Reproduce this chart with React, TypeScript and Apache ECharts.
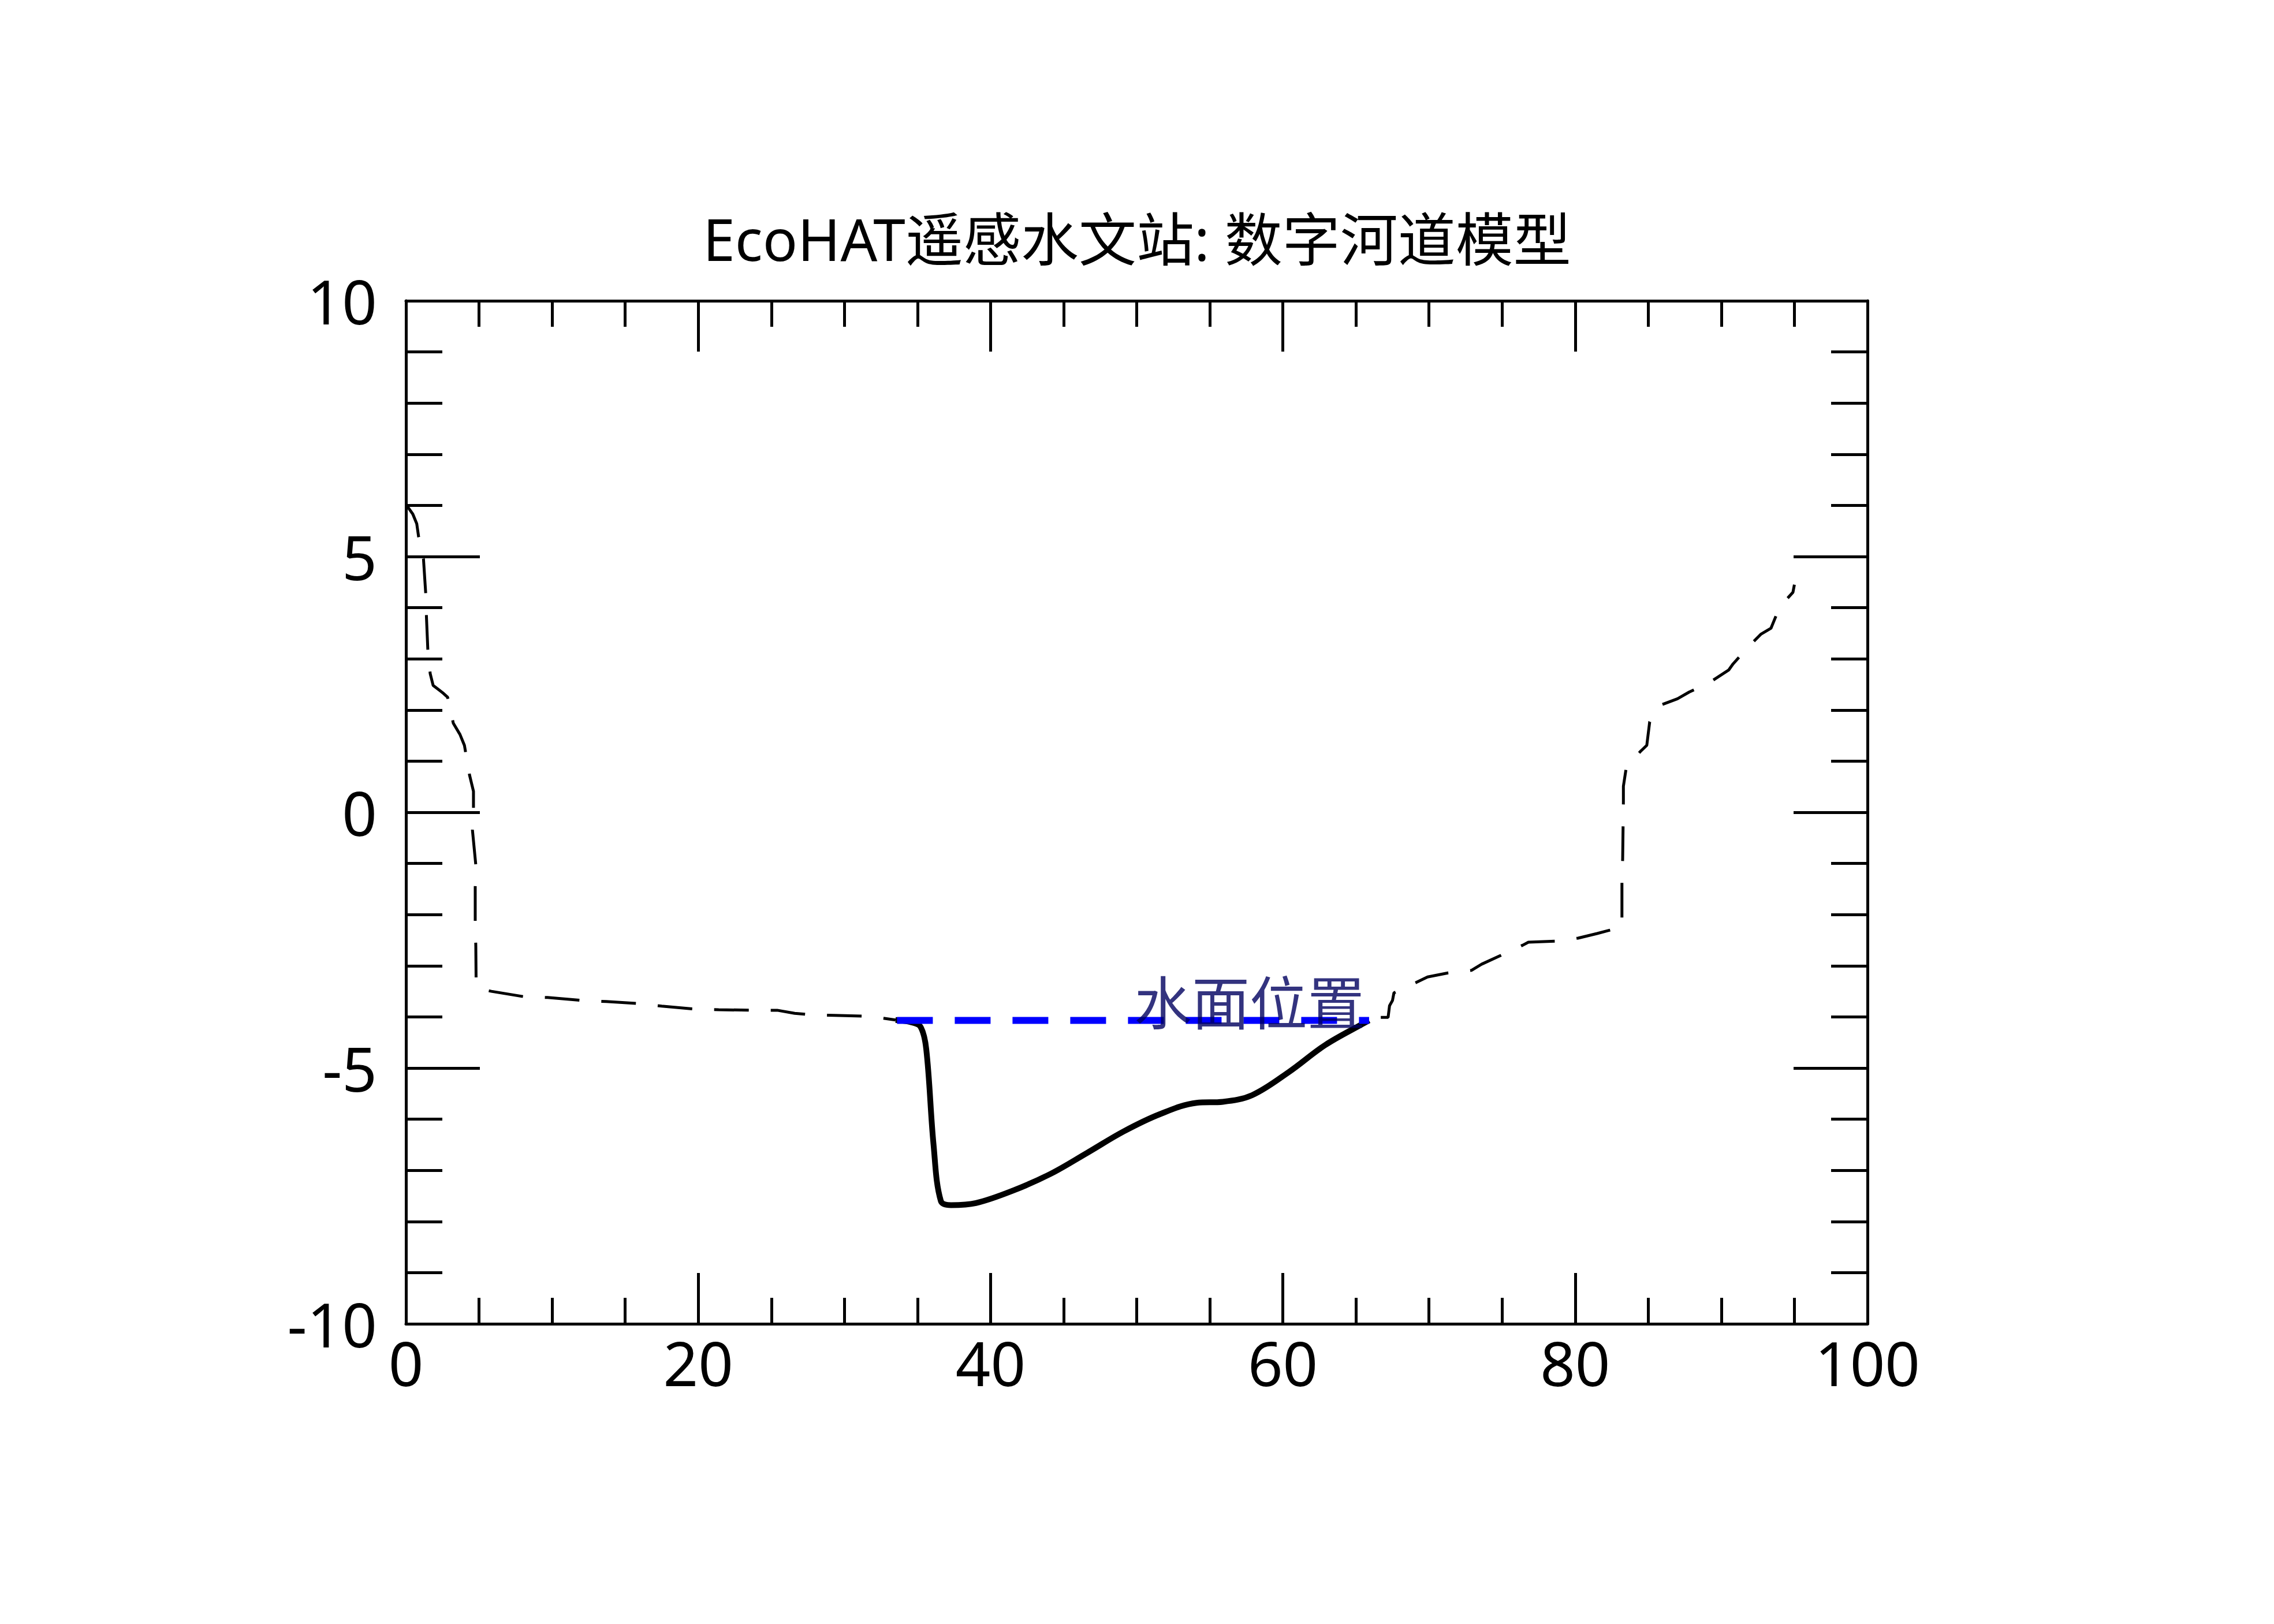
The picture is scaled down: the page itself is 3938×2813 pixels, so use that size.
import React, { useEffect, useRef } from "react";
import * as echarts from "echarts";

const titleText = "EcoHAT遥感水文站: 数字河道模型";
const waterLabel = "水面位置";

const xTicks = [0, 20, 40, 60, 80, 100];
const yTicks = [-10, -5, 0, 5, 10];

// left bank (dashed terrain)
const leftBank: number[][] = [
  [0.05, 6.0], [0.47, 5.83], [0.74, 5.64], [0.87, 5.38], [1.2, 4.95], [1.35, 4.29],
  [1.4, 3.84], [1.5, 3.16], [1.66, 2.71], [1.86, 2.48], [2.5, 2.34], [2.85, 2.25],
  [3.24, 1.74], [3.7, 1.52], [4.0, 1.31], [4.35, 0.73], [4.62, 0.41], [4.62, 0.08],
  [4.55, -0.35], [4.78, -1.03], [4.74, -1.47], [4.74, -2.14], [4.78, -2.62], [4.8, -3.3],
  [5.0, -3.45], [5.85, -3.5], [8.18, -3.61], [9.68, -3.62], [12.1, -3.68], [13.7, -3.7],
  [16.0, -3.74], [17.5, -3.79], [19.9, -3.85], [21.4, -3.86], [23.9, -3.87], [25.4, -3.87],
  [26.6, -3.93], [27.8, -3.96], [29.3, -3.97], [31.8, -3.99], [33.5, -4.06],
];

// riverbed under water (solid)
const riverBed: number[][] = [
  [33.5, -4.06], [34.5, -4.1], [35.2, -4.19], [35.6, -4.63], [36.1, -6.5], [36.6, -7.6],
  [37.3, -7.68], [39.0, -7.64], [41.5, -7.4], [44.1, -7.07], [46.6, -6.66], [49.1, -6.24],
  [51.6, -5.9], [54.1, -5.68], [55.9, -5.66], [57.9, -5.53], [60.4, -5.08], [62.9, -4.55],
  [65.5, -4.13], [65.9, -4.07],
];

// right bank (dashed terrain)
const rightBank: number[][] = [
  [66.7, -4.01], [67.2, -4.01], [67.3, -3.78], [67.5, -3.68], [67.6, -3.53], [69.1, -3.33],
  [69.9, -3.22], [71.3, -3.14], [72.9, -3.09], [73.6, -2.97], [74.9, -2.8], [76.4, -2.6],
  [76.8, -2.54], [78.7, -2.52], [80.2, -2.46], [81.5, -2.37], [82.3, -2.31], [83.2, -2.25],
  [83.2, -2.03], [83.2, -1.37], [83.25, -0.9], [83.3, 0.21], [83.3, 0.51], [83.5, 0.88],
  [84.5, 1.2], [84.9, 1.31], [85.1, 1.77], [85.8, 2.09], [87.0, 2.22], [87.8, 2.35],
  [89.1, 2.52], [90.5, 2.78], [90.8, 2.9], [91.8, 3.22], [92.7, 3.48], [93.4, 3.6],
  [94.0, 4.02], [94.9, 4.3], [95.0, 4.45],
];

// water surface
const waterLevel = -4.07;
const waterStart = 33.6;
const waterEnd = 65.9;
const labelPos = [49.8, -3.66];

const FONT = "'Noto Sans', 'Noto Sans CJK SC', sans-serif";

export default function App() {
  const ref = useRef<HTMLDivElement>(null);
  useEffect(() => {
    if (!ref.current) return;
    const chart = echarts.init(ref.current, null, { renderer: "svg" });
    const lineCol = "#000";
    const mkX = (pos: "bottom" | "top", labels: boolean) => ({
      type: "value",
      position: pos,
      min: xTicks[0],
      max: xTicks[xTicks.length - 1],
      interval: xTicks[1] - xTicks[0],
      axisLine: { show: true, onZero: false, lineStyle: { color: lineCol, width: 5 } },
      axisTick: { show: true, inside: true, length: 88, lineStyle: { color: lineCol, width: 5 } },
      minorTick: { show: true, splitNumber: 4, length: 45, lineStyle: { color: lineCol, width: 5 } },
      axisLabel: { show: labels, fontSize: 106, color: "#000", margin: 14, fontFamily: FONT },
      splitLine: { show: false },
      minorSplitLine: { show: false },
    });
    const mkY = (pos: "left" | "right", labels: boolean) => ({
      type: "value",
      position: pos,
      min: yTicks[0],
      max: yTicks[yTicks.length - 1],
      interval: yTicks[1] - yTicks[0],
      axisLine: { show: true, onZero: false, lineStyle: { color: lineCol, width: 5 } },
      axisTick: { show: true, inside: true, length: 128, lineStyle: { color: lineCol, width: 5 } },
      minorTick: { show: true, splitNumber: 5, length: 63, lineStyle: { color: lineCol, width: 5 } },
      axisLabel: { show: labels, fontSize: 106, color: "#000", margin: 50, fontFamily: FONT },
      splitLine: { show: false },
      minorSplitLine: { show: false },
    });
    chart.setOption({
      animation: false,
      backgroundColor: "#fff",
      title: {
        text: titleText,
        left: "center",
        top: 358,
        textStyle: { fontSize: 100, fontWeight: "normal", color: "#000", fontFamily: FONT },
      },
      grid: { left: 703, top: 521, width: 2531, height: 1772, containLabel: false },
      xAxis: [mkX("bottom", true), mkX("top", false)],
      yAxis: [mkY("left", true), mkY("right", false)],
      series: [
        {
          type: "line",
          data: leftBank,
          symbol: "none",
          lineStyle: { color: "#000", width: 5, type: [60, 38] },
        },
        {
          type: "line",
          data: rightBank,
          symbol: "none",
          lineStyle: { color: "#000", width: 5, type: [60, 38] },
        },
        {
          type: "line",
          data: riverBed,
          symbol: "none",
          smooth: 0.35,
          lineStyle: { color: "#000", width: 10 },
        },
        {
          type: "line",
          data: [[waterStart, waterLevel], [waterEnd, waterLevel]],
          symbol: "none",
          lineStyle: { color: "#0000ff", width: 12, type: [62, 38] },
        },
        {
          type: "scatter",
          data: [labelPos],
          symbolSize: 1,
          itemStyle: { color: "rgba(0,0,0,0)" },
          label: {
            show: true,
            position: "right",
            distance: 0,
            formatter: waterLabel,
            fontSize: 100,
            color: "#00005f",
            fontFamily: "'Noto Sans CJK SC', sans-serif",
            verticalAlign: "middle",
          },
          z: 10,
        },
      ],
    });
    return () => chart.dispose();
  }, []);
  return (
    <div
      ref={ref}
      style={{ position: "fixed", left: 0, top: 0, width: 3938, height: 2813, background: "#fff" }}
    />
  );
}
